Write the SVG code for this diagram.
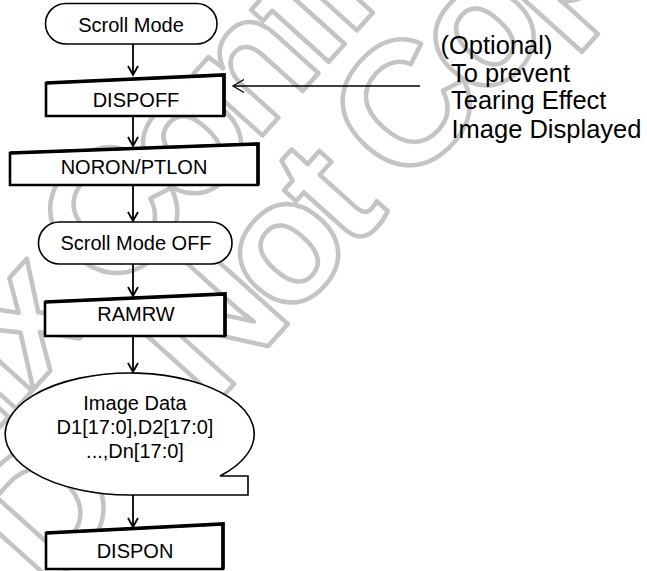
<svg xmlns="http://www.w3.org/2000/svg" width="647" height="571" viewBox="0 0 647 571">
<style>
.wm{font-family:"Liberation Sans",Arial,sans-serif;font-weight:bold;font-size:175px;letter-spacing:-12px;fill:none;stroke:#c4c4c4;stroke-width:4.5;stroke-linejoin:round}
.box{fill:#fff;stroke:#000;stroke-width:2.6;stroke-linejoin:miter}
.boxhi{fill:none;stroke:#000;stroke-width:3.6}
.term{fill:#fff;stroke:#000;stroke-width:1.6}
.lbl{font-family:"Liberation Sans",Arial,sans-serif;font-size:20px;fill:#000;text-anchor:middle}
.note{font-family:"Liberation Sans",Arial,sans-serif;font-size:25.5px;fill:#000}
.conn{fill:none;stroke:#000;stroke-width:1.8}
.head{fill:none;stroke:#000;stroke-width:1.8;stroke-linejoin:miter}
</style>
<g id="watermark">
<text class="wm" transform="translate(46.7,592) rotate(-48)">Do Not Copy</text>
<text class="wm" transform="translate(-282,740) rotate(-48)">Sitronix Confidential</text>
</g>
<g id="connectors">
<line class="conn" x1="133" y1="44" x2="133" y2="75"/>
<polyline class="head" points="128,66 133,75 138,66"/>
<line class="conn" x1="133" y1="116" x2="133" y2="146"/>
<polyline class="head" points="128,137 133,146 138,137"/>
<line class="conn" x1="133" y1="185" x2="133" y2="221"/>
<polyline class="head" points="128,212 133,221 138,212"/>
<line class="conn" x1="133" y1="264" x2="133" y2="296"/>
<polyline class="head" points="128,287 133,296 138,287"/>
<line class="conn" x1="133" y1="336" x2="133" y2="372"/>
<polyline class="head" points="128,363 133,372 138,363"/>
<line class="conn" x1="133" y1="495" x2="133" y2="527"/>
<polyline class="head" points="128,518 133,527 138,518"/>
<line x1="420" y1="86" x2="233" y2="86" stroke="#000" stroke-width="1.3"/>
<polyline points="244,79.5 233,86 244,92.5" fill="none" stroke="#000" stroke-width="1.3"/>
</g>
<g id="scroll-mode">
<rect class="term" x="45.5" y="3.5" width="171.5" height="40.5" rx="20.25"/>
<text class="lbl" x="131" y="32">Scroll Mode</text>
</g>
<g id="dispoff">
<polygon class="box" points="46,83 224,75 224,116 46,116"/>
<polyline class="boxhi" points="46,83 224,75 224,116"/>
<text class="lbl" x="136" y="106.5">DISPOFF</text>
</g>
<g id="noron-ptlon">
<polygon class="box" points="10,153 258,144 258,185 10,185"/>
<polyline class="boxhi" points="10,153 258,144 258,185"/>
<text class="lbl" x="134" y="174">NORON/PTLON</text>
</g>
<g id="scroll-mode-off">
<rect class="term" x="38.5" y="222" width="193.5" height="42" rx="21"/>
<text class="lbl" x="136" y="250">Scroll Mode OFF</text>
</g>
<g id="ramrw">
<polygon class="box" points="45,302 225,294 225,336 45,336"/>
<polyline class="boxhi" points="45,302 225,294 225,336"/>
<text class="lbl" x="136" y="320.5">RAMRW</text>
</g>
<g id="image-data">
<path class="term" d="M220,476 A124.5,61 0 1 0 131.5,495 L248,495 L248,476 Z"/>
<text class="lbl" x="135" y="410">Image Data</text>
<text class="lbl" x="135" y="434">D1[17:0],D2[17:0]</text>
<text class="lbl" x="135" y="457.5">...,Dn[17:0]</text>
</g>
<g id="dispon">
<polygon class="box" points="46,533 223,524 223,569 46,569"/>
<polyline class="boxhi" points="46,533 223,524 223,569"/>
<text class="lbl" x="135" y="557.5">DISPON</text>
</g>
<g id="note">
<text class="note" x="440.5" y="53.5">(Optional)</text>
<text class="note" x="451" y="81.5">To prevent</text>
<text class="note" x="451" y="108.5">Tearing Effect</text>
<text class="note" x="451.5" y="137.5">Image Displayed</text>
</g>
</svg>
